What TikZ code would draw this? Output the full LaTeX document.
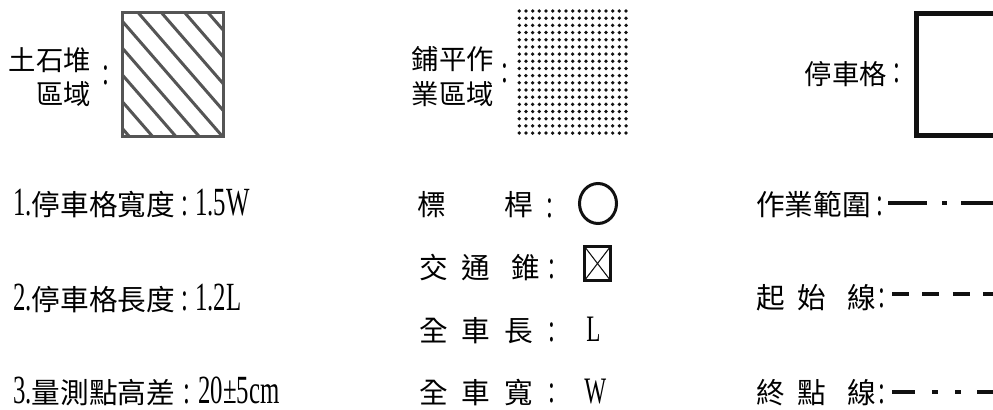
\documentclass[tikz,border=0pt]{standalone}
\usepackage{fontspec}
\usepackage{tikz}
\usetikzlibrary{shapes.geometric}
\newfontfamily\cjk{Noto Sans CJK TC}
\newfontfamily\nrm[FakeStretch=0.62]{Liberation Serif}
\newcommand\nm[1]{{\nrm\fontsize{30}{32}\selectfont #1}}
\definecolor{hatchgray}{HTML}{555555}
\definecolor{ink}{HTML}{111111}

\begin{document}
\begin{tikzpicture}[x=0.75pt,y=-0.75pt,
 top/.style={inner sep=0pt,anchor=base east,font=\cjk\fontsize{20.5}{24}\selectfont},
 key/.style={inner sep=0pt,anchor=base west,font=\cjk\fontsize{21.5}{26}\selectfont},
 spec/.style={inner sep=0pt,anchor=base west,font=\cjk\fontsize{21.5}{26}\selectfont},
 num/.style={inner sep=0pt,anchor=base west,font=\nrm\fontsize{30}{32}\selectfont},
 sym/.style={inner sep=0pt,anchor=base west,font=\nrm\fontsize{28}{30}\selectfont},
 colon/.style={inner sep=0pt,anchor=base,text height=0pt,text depth=0pt,font=\nrm\fontsize{30}{32}\selectfont},
 pilebox/.style={draw=hatchgray,line width=2.25pt,minimum width=75.75pt,minimum height=93pt,inner sep=0pt,
  path picture={\foreach \k in {-5,...,3} \draw[hatchgray,line width=2.25pt] (-36.3+23.3*\k,-63.5) -- ++(140,161);}},
 pavebox/.style={minimum width=84.5pt,minimum height=96pt,inner sep=0pt,
  path picture={\foreach \i in {0,...,16} \foreach \j in {0,...,17} \fill[ink] (-53.35+6.67*\i,-61+7.18*\j) circle[radius=1.4pt];}},
 stallbox/.style={draw=ink,line width=3.75pt,minimum width=74.6pt,minimum height=91.5pt,inner sep=0pt},
 polering/.style={draw=ink,ellipse,line width=2.25pt,minimum width=27.75pt,minimum height=30pt,inner sep=0pt},
 conebox/.style={draw=ink,line width=2.25pt,minimum width=19.5pt,minimum height=25.5pt,inner sep=0pt,
  path picture={\draw[ink,line width=0.8pt] (path picture bounding box.north west) -- (path picture bounding box.south east)
   (path picture bounding box.north east) -- (path picture bounding box.south west);}},
 rangeline/.style={ink,line width=3pt,dash pattern=on 29.25pt off 11.25pt on 3.75pt off 10.5pt},
 startline/.style={ink,line width=3pt,dash pattern=on 12.75pt off 10.1pt},
 endline/.style={ink,line width=3pt,dash pattern=on 17.25pt off 12.75pt on 4.5pt off 12.75pt on 4.5pt off 12pt}]
 \clip (0,0) rectangle (993,410);
 \fill[white] (0,0) rectangle (993,410);

 \node[top] (pile1) at (91,71) {土石堆};
 \node[top] (pile2) at (91,105) {區域};
 \node[colon] (pilec) at (106,84.5) {:};
 \node[pilebox] (pile) at (173,74.5) {};

 \node[top] (pave1) at (494,70) {鋪平作};
 \node[top] (pave2) at (494,105) {業區域};
 \node[colon] (pavec) at (505,83) {:};
 \node[pavebox] (pave) at (572.65,72) {};

 \node[top] (stall1) at (887,85) {停車格};
 \node[colon] (stallc) at (897,83) {:};
 \node[stallbox] (stall) at (966.25,74.5) {};

 \node[spec] (width) at (13,215) {\nm{1.}停車格寬度};
 \node[colon] (widthc) at (185,215) {:};
 \node[num] (widthv) at (195,215) {1.5W};
 \node[spec] (length) at (13,310) {\nm{2.}停車格長度};
 \node[colon] (lengthc) at (185,310) {:};
 \node[num] (lengthv) at (195,310) {1.2L};
 \node[spec] (level) at (13,403) {\nm{3.}量測點高差};
 \node[colon] (levelc) at (187,403) {:};
 \node[num] (levelv) at (198,403) {20±5cm};

 \node[key] (pole1) at (417,215) {標\hspace{43.7pt}桿};
 \node[colon] (polec) at (550,217) {:};
 \node[polering] (pole) at (598,203.5) {};
 \node[key] (cone1) at (419,278) {交\hspace{10pt}通\hspace{16pt}錐};
 \node[colon] (conec) at (552,278) {:};
 \node[conebox] (cone) at (597.5,263.5) {};
 \node[key] (carl1) at (419,341) {全\hspace{10pt}車\hspace{10.7pt}長};
 \node[colon] (carlc) at (552,341) {:};
 \node[sym] (carl) at (586,341) {L};
 \node[key] (carw1) at (419,403) {全\hspace{10pt}車\hspace{10.7pt}寬};
 \node[colon] (carwc) at (552,402) {:};
 \node[sym] (carw) at (584,403) {W};

 \node[key] (range1) at (756,215) {作業範圍};
 \node[colon] (rangec) at (880,215) {:};
 \coordinate (range0) at (888,203);
 \coordinate (range9) at (1000,203);
 \draw[rangeline] (range0) -- (range9);
 \node[key] (start1) at (756,308) {起\hspace{9.2pt}始\hspace{16pt}線};
 \node[colon] (startc) at (882,307) {:};
 \coordinate (start0) at (892,294);
 \coordinate (start9) at (1000,294);
 \draw[startline] (start0) -- (start9);
 \node[key] (end1) at (756,403) {終\hspace{9.2pt}點\hspace{16pt}線};
 \node[colon] (endc) at (882,403) {:};
 \coordinate (end0) at (892,392);
 \coordinate (end9) at (1000,392);
 \draw[endline] (end0) -- (end9);
\end{tikzpicture}
\end{document}
